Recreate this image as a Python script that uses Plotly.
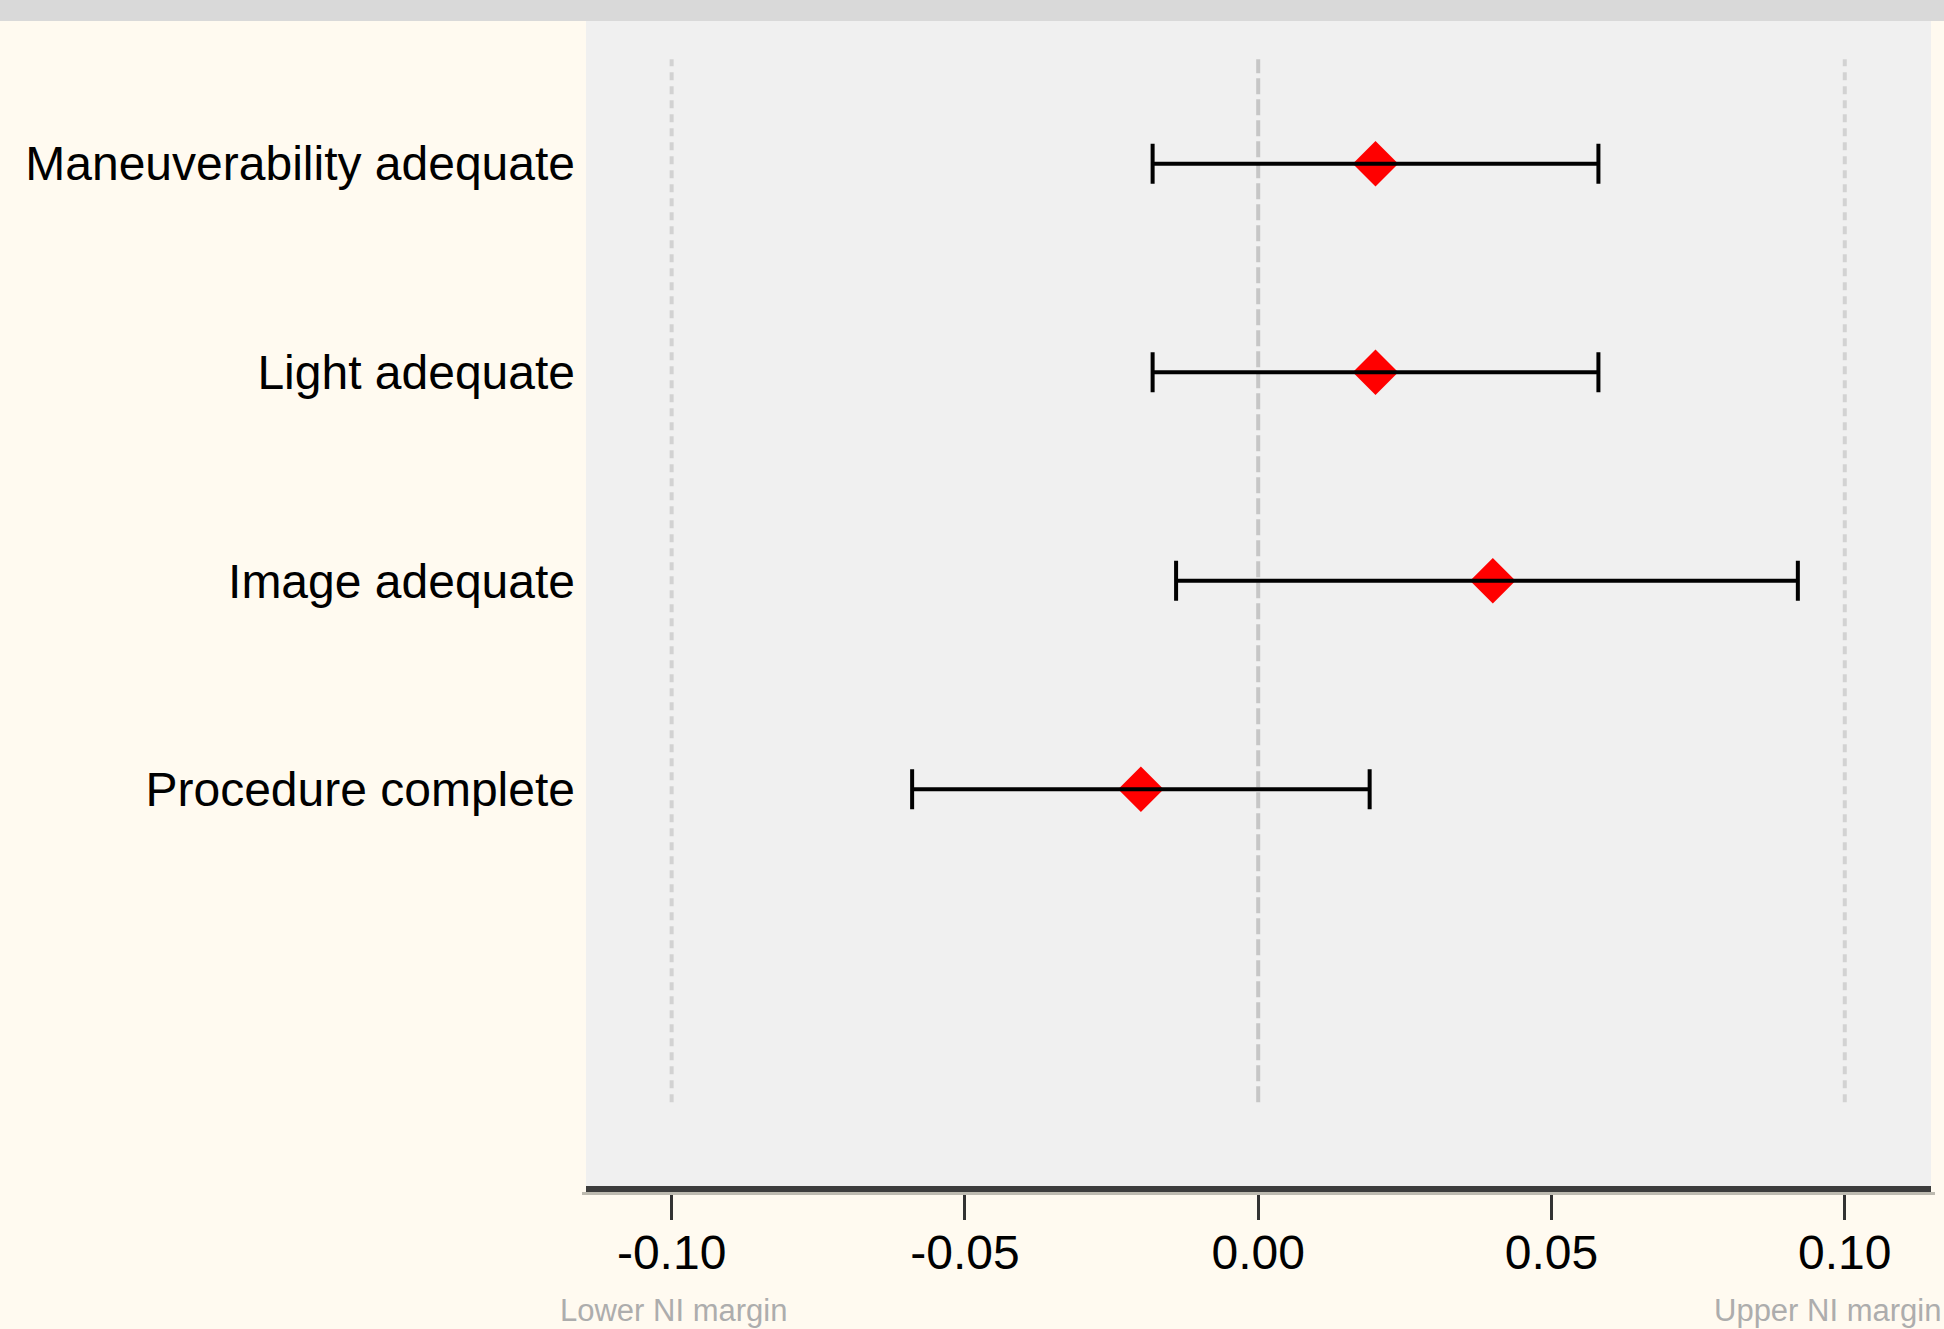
import plotly.graph_objects as go

# ---- data ----
categories = ["Maneuverability adequate", "Light adequate", "Image adequate", "Procedure complete"]
estimate = [0.020, 0.020, 0.040, -0.020]
ci_lower = [-0.018, -0.018, -0.014, -0.059]
ci_upper = [0.058, 0.058, 0.092, 0.019]
ni_margins = [-0.10, 0.10]
ni_labels = ["Lower NI margin", "Upper NI margin"]
x_ticks = [-0.10, -0.05, 0.00, 0.05, 0.10]
x_ticktext = ["-0.10", "-0.05", "0.00", "0.05", "0.10"]

n = len(categories)
y_pos = [n - i for i in range(n)]
err_plus = [u - e for u, e in zip(ci_upper, estimate)]
err_minus = [e - l for e, l in zip(estimate, ci_lower)]

W, H = 1944, 1329
ML, MR, MT, MB = 586, 13, 21, 143
PH = H - MT - MB
PW = W - ML - MR

FONT = "Liberation Sans, Arial, sans-serif"

fig = go.Figure()

# diamonds (drawn first so the CI line passes over them)
fig.add_trace(go.Scatter(
    x=estimate, y=y_pos, mode="markers",
    marker=dict(symbol="diamond", size=35, color="#FF0000", line=dict(width=0)),
    hoverinfo="skip", showlegend=False,
))
# confidence intervals
fig.add_trace(go.Scatter(
    x=estimate, y=y_pos, mode="markers",
    marker=dict(size=1, opacity=0),
    error_x=dict(type="data", symmetric=False, array=err_plus, arrayminus=err_minus,
                 color="#000000", thickness=4, width=20),
    hoverinfo="skip", showlegend=False,
))

shapes = []
# zero line (dashed)
shapes.append(dict(type="line", xref="x", yref="y", x0=0, x1=0, y0=-0.5, y1=n + 0.5,
                   line=dict(color="#C6C6C6", width=4, dash="16px,5px"), layer="below"))
# NI margin lines (dotted)
for m in ni_margins:
    shapes.append(dict(type="line", xref="x", yref="y", x0=m, x1=m, y0=-0.5, y1=n + 0.5,
                       line=dict(color="#D2D2D2", width=4, dash="8px,6px"), layer="below"))
# top grey band
shapes.append(dict(type="rect", xref="paper", yref="paper",
                   x0=-ML / PW - 0.01, x1=1 + MR / PW + 0.01, y0=1, y1=1 + MT / PH + 0.01,
                   fillcolor="#D9D9D9", line=dict(width=0), layer="above"))
# axis shadow
shapes.append(dict(type="line", xref="paper", yref="paper",
                   x0=-4 / PW, x1=1 + 4 / PW, y0=-7.5 / PH, y1=-7.5 / PH,
                   line=dict(color="#BDBAB0", width=3), layer="above"))

annotations = []
shifts = [2, -17]
for m, lab, s in zip(ni_margins, ni_labels, shifts):
    annotations.append(dict(x=m, xref="x", y=-105 / PH, yref="paper", text=lab,
                            showarrow=False, xanchor="center", yanchor="top", xshift=s,
                            font=dict(family=FONT, size=31, color="#ADADAD")))

fig.update_layout(
    width=W, height=H,
    margin=dict(l=ML, r=MR, t=MT, b=MB, pad=0),
    paper_bgcolor="#FFFAF0",
    plot_bgcolor="#F0F0F0",
    showlegend=False,
    shapes=shapes,
    annotations=annotations,
    xaxis=dict(
        range=[-0.1146, 0.1147], tickvals=x_ticks, ticktext=x_ticktext,
        showgrid=False, zeroline=False,
        showline=True, linecolor="#3C3C3C", linewidth=6,
        ticks="outside", ticklen=28, tickwidth=3, tickcolor="#333333",
        ticklabelstandoff=-9,
        tickfont=dict(family=FONT, size=48, color="#000000"),
        fixedrange=True,
    ),
    yaxis=dict(
        range=[-0.902, n + 0.684], tickvals=y_pos, ticktext=categories,
        showgrid=False, zeroline=False, showline=False, ticks="",
        ticklabelstandoff=10,
        tickfont=dict(family=FONT, size=48, color="#000000"),
        fixedrange=True,
    ),
)

fig.write_html(
    "out.html",
    config={"displayModeBar": False},
    post_script="document.body.style.margin='0';document.body.style.overflow='hidden';",
)
